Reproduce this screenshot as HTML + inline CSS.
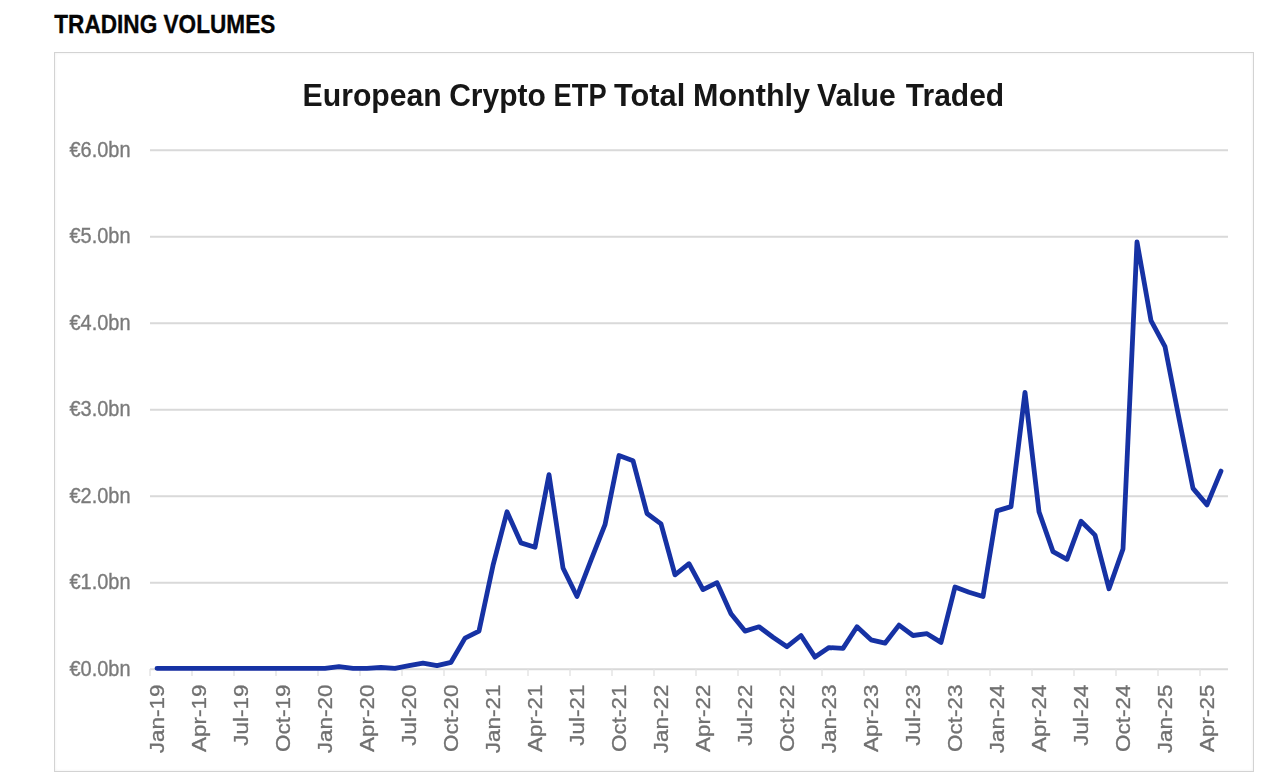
<!DOCTYPE html>
<html><head><meta charset="utf-8"><style>
html,body{margin:0;padding:0;background:#fff;}
body{width:1279px;height:784px;position:relative;overflow:hidden;font-family:"Liberation Sans",sans-serif;}
.box{position:absolute;left:54px;top:52px;width:1198px;height:718px;border:1px solid #d3d3d3;box-shadow:inset 0 0 3px rgba(0,0,0,0.07);}
svg{position:absolute;left:0;top:0;}
</style></head><body>
<div class="box"></div>
<svg width="1279" height="784" viewBox="0 0 1279 784">
<defs><filter id="bl" x="-5%" y="-5%" width="110%" height="110%"><feGaussianBlur stdDeviation="0.65"/></filter></defs>
<text x="54.3" y="33.4" font-family="Liberation Sans" font-weight="bold" font-size="26.5" fill="#050505" stroke="#050505" stroke-width="0.35" textLength="221" lengthAdjust="spacingAndGlyphs">TRADING VOLUMES</text>
<g filter="url(#bl)">
<g font-family="Liberation Sans" font-weight="bold" font-size="31.5" fill="#151515"><text x="302.60" y="106" textLength="139.20" lengthAdjust="spacingAndGlyphs">European</text><text x="449.20" y="106" textLength="96.60" lengthAdjust="spacingAndGlyphs">Crypto</text><text x="553.60" y="106" textLength="53.00" lengthAdjust="spacingAndGlyphs">ETP</text><text x="614.00" y="106" textLength="71.20" lengthAdjust="spacingAndGlyphs">Total</text><text x="693.00" y="106" textLength="117.00" lengthAdjust="spacingAndGlyphs">Monthly</text><text x="817.00" y="106" textLength="78.80" lengthAdjust="spacingAndGlyphs">Value</text><text x="905.80" y="106" textLength="98.40" lengthAdjust="spacingAndGlyphs">Traded</text></g>
<g stroke="#d9d9d9" stroke-width="2"><line x1="150" y1="582.7" x2="1228" y2="582.7"/><line x1="150" y1="496.2" x2="1228" y2="496.2"/><line x1="150" y1="409.7" x2="1228" y2="409.7"/><line x1="150" y1="323.2" x2="1228" y2="323.2"/><line x1="150" y1="236.7" x2="1228" y2="236.7"/><line x1="150" y1="150.2" x2="1228" y2="150.2"/></g>
<line x1="150" y1="669.2" x2="1228" y2="669.2" stroke="#d9d9d9" stroke-width="2"/>
<g stroke="#e0e0e0" stroke-width="1.3"><line x1="150" y1="669" x2="150" y2="676"/><line x1="192" y1="669" x2="192" y2="676"/><line x1="234" y1="669" x2="234" y2="676"/><line x1="276" y1="669" x2="276" y2="676"/><line x1="318" y1="669" x2="318" y2="676"/><line x1="360" y1="669" x2="360" y2="676"/><line x1="402" y1="669" x2="402" y2="676"/><line x1="444" y1="669" x2="444" y2="676"/><line x1="486" y1="669" x2="486" y2="676"/><line x1="528" y1="669" x2="528" y2="676"/><line x1="570" y1="669" x2="570" y2="676"/><line x1="612" y1="669" x2="612" y2="676"/><line x1="654" y1="669" x2="654" y2="676"/><line x1="696" y1="669" x2="696" y2="676"/><line x1="738" y1="669" x2="738" y2="676"/><line x1="780" y1="669" x2="780" y2="676"/><line x1="822" y1="669" x2="822" y2="676"/><line x1="864" y1="669" x2="864" y2="676"/><line x1="906" y1="669" x2="906" y2="676"/><line x1="948" y1="669" x2="948" y2="676"/><line x1="990" y1="669" x2="990" y2="676"/><line x1="1032" y1="669" x2="1032" y2="676"/><line x1="1074" y1="669" x2="1074" y2="676"/><line x1="1116" y1="669" x2="1116" y2="676"/><line x1="1158" y1="669" x2="1158" y2="676"/><line x1="1200" y1="669" x2="1200" y2="676"/></g>
<g font-family="Liberation Sans" font-size="21.5" fill="#7a7a7a" stroke="#7a7a7a" stroke-width="0.35" text-anchor="end"><text x="130.5" y="675.7" textLength="61" lengthAdjust="spacingAndGlyphs">€0.0bn</text><text x="130.5" y="589.2" textLength="61" lengthAdjust="spacingAndGlyphs">€1.0bn</text><text x="130.5" y="502.7" textLength="61" lengthAdjust="spacingAndGlyphs">€2.0bn</text><text x="130.5" y="416.2" textLength="61" lengthAdjust="spacingAndGlyphs">€3.0bn</text><text x="130.5" y="329.7" textLength="61" lengthAdjust="spacingAndGlyphs">€4.0bn</text><text x="130.5" y="243.2" textLength="61" lengthAdjust="spacingAndGlyphs">€5.0bn</text><text x="130.5" y="156.7" textLength="61" lengthAdjust="spacingAndGlyphs">€6.0bn</text></g>
<g font-family="Liberation Sans" font-size="21" fill="#707070" stroke="#707070" stroke-width="0.3" text-anchor="end"><text transform="translate(164.1,684.5) rotate(-90) scale(1.07,1)">Jan-19</text><text transform="translate(206.1,684.5) rotate(-90) scale(1.07,1)">Apr-19</text><text transform="translate(248.1,684.5) rotate(-90) scale(1.07,1)">Jul-19</text><text transform="translate(290.1,684.5) rotate(-90) scale(1.07,1)">Oct-19</text><text transform="translate(332.1,684.5) rotate(-90) scale(1.07,1)">Jan-20</text><text transform="translate(374.1,684.5) rotate(-90) scale(1.07,1)">Apr-20</text><text transform="translate(416.1,684.5) rotate(-90) scale(1.07,1)">Jul-20</text><text transform="translate(458.1,684.5) rotate(-90) scale(1.07,1)">Oct-20</text><text transform="translate(500.1,684.5) rotate(-90) scale(1.07,1)">Jan-21</text><text transform="translate(542.1,684.5) rotate(-90) scale(1.07,1)">Apr-21</text><text transform="translate(584.1,684.5) rotate(-90) scale(1.07,1)">Jul-21</text><text transform="translate(626.1,684.5) rotate(-90) scale(1.07,1)">Oct-21</text><text transform="translate(668.1,684.5) rotate(-90) scale(1.07,1)">Jan-22</text><text transform="translate(710.1,684.5) rotate(-90) scale(1.07,1)">Apr-22</text><text transform="translate(752.1,684.5) rotate(-90) scale(1.07,1)">Jul-22</text><text transform="translate(794.1,684.5) rotate(-90) scale(1.07,1)">Oct-22</text><text transform="translate(836.1,684.5) rotate(-90) scale(1.07,1)">Jan-23</text><text transform="translate(878.1,684.5) rotate(-90) scale(1.07,1)">Apr-23</text><text transform="translate(920.1,684.5) rotate(-90) scale(1.07,1)">Jul-23</text><text transform="translate(962.1,684.5) rotate(-90) scale(1.07,1)">Oct-23</text><text transform="translate(1004.1,684.5) rotate(-90) scale(1.07,1)">Jan-24</text><text transform="translate(1046.1,684.5) rotate(-90) scale(1.07,1)">Apr-24</text><text transform="translate(1088.1,684.5) rotate(-90) scale(1.07,1)">Jul-24</text><text transform="translate(1130.1,684.5) rotate(-90) scale(1.07,1)">Oct-24</text><text transform="translate(1172.1,684.5) rotate(-90) scale(1.07,1)">Jan-25</text><text transform="translate(1214.1,684.5) rotate(-90) scale(1.07,1)">Apr-25</text></g>
<polyline points="157.0,668.3 171.0,668.3 185.0,668.3 199.0,668.3 213.0,668.3 227.0,668.3 241.0,668.3 255.0,668.3 269.0,668.3 283.0,668.3 297.0,668.3 311.0,668.3 325.0,668.3 339.0,666.6 353.0,668.3 367.0,668.3 381.0,667.5 395.0,668.3 409.0,665.7 423.0,663.1 437.0,665.7 451.0,662.3 465.0,638.1 479.0,631.1 493.0,565.4 507.0,511.8 521.0,542.9 535.0,547.2 549.0,474.6 563.0,568.0 577.0,596.5 591.0,560.2 605.0,524.7 619.0,455.5 633.0,460.7 647.0,513.5 661.0,523.9 675.0,574.9 689.0,563.7 703.0,589.6 717.0,582.7 731.0,613.8 745.0,631.1 759.0,626.8 773.0,637.2 787.0,646.7 801.0,635.5 815.0,657.1 829.0,647.6 843.0,648.4 857.0,626.8 871.0,639.8 885.0,643.2 899.0,625.1 913.0,635.5 927.0,633.7 941.0,642.4 955.0,587.0 969.0,592.2 983.0,596.5 997.0,510.9 1011.0,506.6 1025.0,392.4 1039.0,511.8 1053.0,551.6 1067.0,559.3 1081.0,521.3 1095.0,535.1 1109.0,588.8 1123.0,549.0 1137.0,241.9 1151.0,320.6 1165.0,346.6 1179.0,418.4 1193.0,488.4 1207.0,504.9 1221.0,471.1" fill="none" stroke="#1630a4" stroke-width="4.8" stroke-linejoin="round" stroke-linecap="round"/>
</g>
</svg>
</body></html>
